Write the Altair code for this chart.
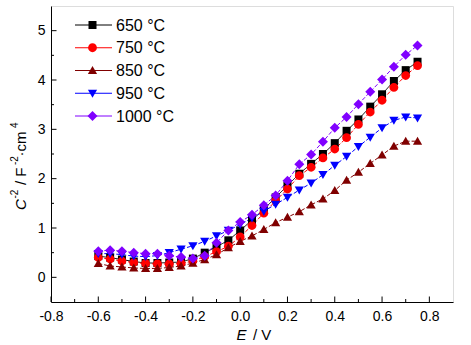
import altair as alt
import pandas as pd

# ---------------- data ----------------
x_vals = [-0.60, -0.55, -0.50, -0.45, -0.40, -0.35, -0.30, -0.25, -0.20, -0.15,
          -0.10, -0.05, 0.00, 0.05, 0.10, 0.15, 0.20, 0.25, 0.30, 0.35,
          0.40, 0.45, 0.50, 0.55, 0.60, 0.65, 0.70, 0.75]

series_names = ["650 °C", "750 °C", "850 °C", "950 °C", "1000 °C"]
series_colors = ["#000000", "#ff0000", "#800000", "#0000ff", "#8000ff"]

c650 = [0.43, 0.40, 0.36, 0.32, 0.29, 0.29, 0.30, 0.31, 0.38, 0.50,
        0.62, 0.75, 0.95, 1.16, 1.38, 1.62, 1.86, 2.10, 2.30, 2.50,
        2.72, 2.97, 3.20, 3.46, 3.71, 3.98, 4.20, 4.37]
c750 = [0.40, 0.37, 0.33, 0.30, 0.28, 0.27, 0.27, 0.28, 0.33, 0.42,
        0.52, 0.63, 0.82, 1.05, 1.30, 1.55, 1.79, 2.06, 2.23, 2.42,
        2.60, 2.83, 3.10, 3.35, 3.59, 3.85, 4.09, 4.29]
c850 = [0.28, 0.23, 0.21, 0.19, 0.18, 0.18, 0.20, 0.23, 0.29, 0.36,
        0.46, 0.60, 0.73, 0.84, 0.97, 1.11, 1.22, 1.33, 1.47, 1.59,
        1.76, 1.97, 2.13, 2.31, 2.48, 2.66, 2.76, 2.76]
c950 = [0.48, 0.48, 0.46, 0.43, 0.42, 0.44, 0.50, 0.57, 0.64, 0.73,
        0.84, 0.95, 1.07, 1.20, 1.34, 1.48, 1.62, 1.77, 1.91, 2.08,
        2.27, 2.45, 2.65, 2.84, 3.03, 3.18, 3.25, 3.23]
c1000 = [0.53, 0.55, 0.53, 0.50, 0.48, 0.48, 0.44, 0.41, 0.38, 0.44,
         0.70, 0.95, 1.12, 1.27, 1.46, 1.66, 1.96, 2.29, 2.49, 2.75,
         3.03, 3.25, 3.51, 3.76, 4.01, 4.27, 4.51, 4.70]
all_series = [c650, c750, c850, c950, c1000]

x_major = [-0.8, -0.6, -0.4, -0.2, 0.0, 0.2, 0.4, 0.6, 0.8]
x_minor = [-0.7, -0.5, -0.3, -0.1, 0.1, 0.3, 0.5, 0.7]
y_major = [0, 1, 2, 3, 4, 5]
y_minor = [0.5, 1.5, 2.5, 3.5, 4.5]

x_title_parts = ["E", "/ V"]
y_title_parts = ["C", "-2", "/ F", "-2", "·cm", "4"]

# ---------------- styles ----------------
FONT = "Liberation Sans"
marker_paths = [
    "M-1,-1H1V1H-1Z",
    "M1.1,0A1.1,1.1,0,1,1,-1.1,0A1.1,1.1,0,1,1,1.1,0Z",
    "M0,-1.1L1.15,0.9H-1.15Z",
    "M0,1.1L1.15,-0.9H-1.15Z",
    "M0,-1.25L1.25,0L0,1.25L-1.25,0Z",
]
dashes = [[1, 0], [4, 2], [4, 2], [4, 2], [4, 2]]

rows = []
for name, vals in zip(series_names, all_series):
    for xv, yv in zip(x_vals, vals):
        rows.append({"series": name, "x": xv, "y": yv})
df = pd.DataFrame(rows)

xscale = alt.Scale(domain=[-0.8, 0.9], nice=False, zero=False)
yscale = alt.Scale(domain=[-0.5, 5.5], nice=False, zero=False)
xaxis = alt.Axis(values=x_major, title=None, ticks=False, grid=False,
                 labelExpr="(datum.value < 0 ? '-' : '') + format(abs(datum.value), '.1f')",
                 labelFlush=False, labelOverlap=False, labelPadding=7,
                 labelFontSize=14, labelFont=FONT, labelColor="black",
                 domainColor="black", domainWidth=1)
yaxis = alt.Axis(values=y_major, title=None, ticks=False, grid=False, format="d",
                 labelFlush=False, labelOverlap=False, labelPadding=6,
                 labelFontSize=14, labelFont=FONT, labelColor="black",
                 domainColor="black", domainWidth=1)


def X(field):
    return alt.X(field, type="quantitative", scale=xscale, axis=xaxis)


def Y(field):
    return alt.Y(field, type="quantitative", scale=yscale, axis=yaxis)


color_scale = alt.Scale(domain=series_names, range=series_colors)

lines = alt.Chart(df).mark_line(strokeWidth=1).encode(
    x=X("x"), y=Y("y"),
    color=alt.Color("series:N", scale=color_scale, legend=None),
    strokeDash=alt.StrokeDash("series:N", scale=alt.Scale(domain=series_names, range=dashes), legend=None),
)

point_layers = []
for name, col, path in zip(series_names, series_colors, marker_paths):
    point_layers.append(
        alt.Chart(df).transform_filter(alt.datum.series == name).mark_point(
            filled=True, size=64, opacity=1, color=col, shape=path
        ).encode(x=X("x"), y=Y("y"))
    )

one = pd.DataFrame({"a": [0]})

# ---------------- legend (inside, top-left) ----------------
LEG_Y0, LEG_DY = 19, 22.75
LEG_X1, LEG_XC, LEG_X2, LEG_XT = 24, 41.5, 61, 65
legend_layers = []
for i, (name, col, path) in enumerate(zip(series_names, series_colors, marker_paths)):
    yy = LEG_Y0 + LEG_DY * i
    legend_layers.append(
        alt.Chart(one).mark_rule(color=col, strokeWidth=1).encode(
            x=alt.value(LEG_X1), x2=alt.value(LEG_X2), y=alt.value(yy)))
    legend_layers.append(
        alt.Chart(one).mark_point(filled=True, size=64, opacity=1, color=col, shape=path).encode(
            x=alt.value(LEG_XC), y=alt.value(yy)))
    legend_layers.append(
        alt.Chart(one).mark_text(text=name, fontSize=16, font=FONT, color="black",
                                 align="left", baseline="middle").encode(
            x=alt.value(LEG_XT), y=alt.value(yy + 0.5)))

# ticks (inward)
xt_major = alt.Chart(pd.DataFrame({"x": x_major})).mark_rule(color="black", strokeWidth=1).encode(
    x=X("x"), y=alt.value(296), y2=alt.value(290.5))
xt_minor = alt.Chart(pd.DataFrame({"x": x_minor})).mark_rule(color="black", strokeWidth=1).encode(
    x=X("x"), y=alt.value(296), y2=alt.value(293))
yt_major = alt.Chart(pd.DataFrame({"y": y_major})).mark_rule(color="black", strokeWidth=1).encode(
    y=Y("y"), x=alt.value(0), x2=alt.value(5.5))
yt_minor = alt.Chart(pd.DataFrame({"y": y_minor})).mark_rule(color="black", strokeWidth=1).encode(
    y=Y("y"), x=alt.value(0), x2=alt.value(3))


def txt(s, x, y, size=15, italic=False, angle=0):
    kw = dict(text=s, fontSize=size, font=FONT, color="black", align="left",
              baseline="alphabetic")
    if italic:
        kw["fontStyle"] = "italic"
    if angle:
        kw["angle"] = angle
    return alt.Chart(one).mark_text(**kw).encode(x=alt.value(x), y=alt.value(y))


titles = [
    txt(x_title_parts[0], 185.5, 334, italic=True),
    txt(x_title_parts[1], 202, 334),
    txt(y_title_parts[0], -25.3, 204, italic=True, angle=270),
    txt(y_title_parts[1], -33, 192.5, size=10, angle=270),
    txt(y_title_parts[2], -25.3, 179, angle=270),
    txt(y_title_parts[3], -33, 159, size=10, angle=270),
    txt(y_title_parts[4], -25.3, 150.5, angle=270),
    txt(y_title_parts[5], -33, 122, size=10, angle=270),
]

chart = alt.layer(lines, *point_layers, xt_major, xt_minor, yt_major, yt_minor,
                  *legend_layers, *titles).properties(
    width=402, height=296,
    autosize=alt.AutoSizeParams(type="none"),
    padding={"left": 51, "top": 6, "right": 18, "bottom": 43},
).configure_view(stroke="black", strokeWidth=1).configure(font=FONT, background="white")

chart.save("out.html", embed_options={"renderer": "svg", "actions": False})
